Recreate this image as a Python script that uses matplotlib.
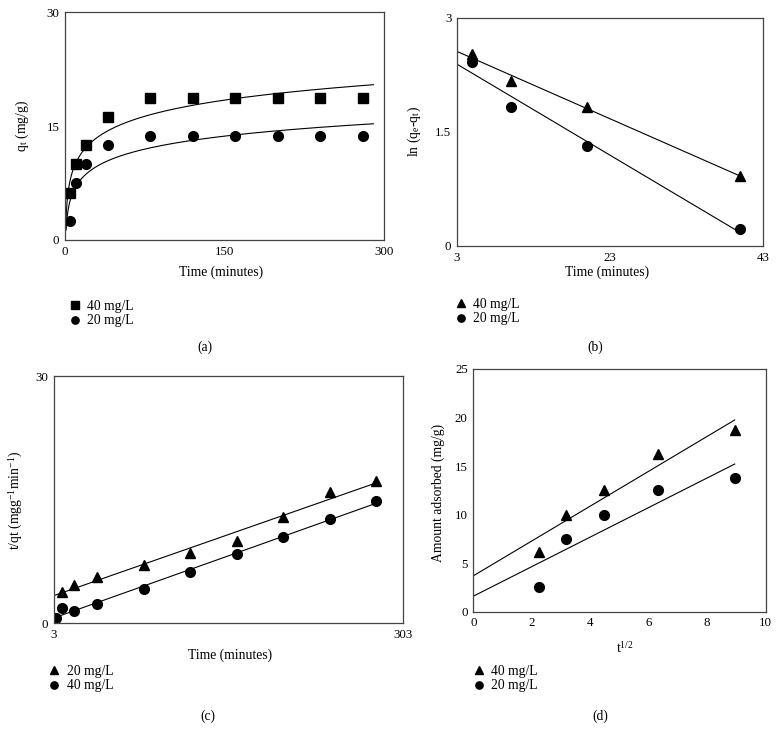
import numpy as np
import matplotlib
matplotlib.use('Agg')
import matplotlib.pyplot as plt

plt.rcParams['font.family'] = ['Liberation Serif', 'DejaVu Serif']
plt.rcParams['mathtext.fontset'] = 'stix'

# (a) q_t vs time
t_a = [5, 10, 20, 40, 80, 120, 160, 200, 240, 280]
q40_a = [6.2, 10.0, 12.5, 16.2, 18.7, 18.7, 18.7, 18.7, 18.7, 18.7]
q20_a = [2.5, 7.5, 10.0, 12.5, 13.75, 13.75, 13.75, 13.75, 13.75, 13.75]

# (b) ln(qe-qt) vs time
t_b = [5, 10, 20, 40]
ln40_b = [2.52, 2.17, 1.83, 0.92]
ln20_b = [2.42, 1.83, 1.32, 0.22]

# (c) t/qt vs time
t20_c = [10, 20, 40, 80, 120, 160, 200, 240, 280]
tq20_c = [3.73, 4.62, 5.62, 7.04, 8.46, 9.96, 12.91, 15.87, 17.28]
t40_c = [5, 10, 20, 40, 80, 120, 160, 200, 240, 280]
tq40_c = [0.57, 1.79, 1.46, 2.34, 4.09, 6.23, 8.34, 10.48, 12.67, 14.78]

# (d) amount adsorbed vs t^1/2
sqrt_t = [2.24, 3.16, 4.47, 6.32, 8.94]
amt40_d = [6.2, 10.0, 12.5, 16.2, 18.7]
amt20_d = [2.5, 7.5, 10.0, 12.5, 13.75]

W, H = 779, 742
fig = plt.figure(figsize=(W / 100, H / 100), dpi=100)

FS = 9.8

def axes_px(left, right, top, bottom):
    return fig.add_axes([left / W, 1 - bottom / H, (right - left) / W, (bottom - top) / H])

def style(ax):
    for s in ax.spines.values():
        s.set_color('#444444')
        s.set_linewidth(0.9)
    ax.tick_params(length=0, labelsize=9.3, pad=4)

def legend_px(ax, handles, labels, mx, my):
    em = FS * 100 / 72
    ax.legend(handles, labels, loc='upper left', frameon=False,
              bbox_to_anchor=((mx - em * 0.5) / W, 1 - (my - 8) / H),
              bbox_transform=fig.transFigure, fontsize=FS,
              handlelength=1.0, handletextpad=0.4, borderpad=0,
              borderaxespad=0, labelspacing=0.1, markerscale=0.75)

def caption(x, y, s):
    fig.text(x / W, 1 - y / H, s, ha='center', va='center', fontsize=FS)

lw = 0.8
ms = 7
kw = dict(color='black', linestyle='none')

# ---- (a)
ax = axes_px(65, 384, 12.3, 240)
style(ax)
b40, a40 = np.polyfit(np.log(t_a), q40_a, 1)
b20, a20 = np.polyfit(np.log(t_a), q20_a, 1)
tt = np.linspace(1, 290, 300)
ax.plot(tt, a40 + b40 * np.log(tt), color='black', lw=lw)
ax.plot(tt, a20 + b20 * np.log(tt), color='black', lw=lw)
h1, = ax.plot(t_a, q40_a, marker='s', ms=6.8, **kw)
h2, = ax.plot(t_a, q20_a, marker='o', ms=ms, **kw)
ax.set_xlim(0, 300)
ax.set_ylim(0, 30)
ax.set_xticks([0, 150, 300])
ax.set_yticks([0, 15, 30])
ax.set_xlabel('Time (minutes)', fontsize=FS, va='center')
ax.xaxis.set_label_coords(0.489, -0.14)
ax.set_ylabel('q$_{\\mathregular{t}}$ (mg/g)', fontsize=FS, va='center')
ax.yaxis.set_label_coords(-0.135, 0.5)
legend_px(ax, [h1, h2], ['40 mg/L', '20 mg/L'], 75, 308)
caption(205, 347, '(a)')

# ---- (b)
ax = axes_px(457, 763, 17.7, 246)
style(ax)
xx = np.array([3, 40])
p40 = np.polyfit(t_b, ln40_b, 1)
p20 = np.polyfit(t_b, ln20_b, 1)
ax.plot(xx, np.polyval(p40, xx), color='black', lw=lw)
ax.plot(xx, np.polyval(p20, xx), color='black', lw=lw)
h1, = ax.plot(t_b, ln40_b, marker='^', ms=7.8, **kw)
h2, = ax.plot(t_b, ln20_b, marker='o', ms=ms, **kw)
ax.set_xlim(3, 43)
ax.set_ylim(0, 3)
ax.set_xticks([3, 23, 43])
ax.set_yticks([0, 1.5, 3])
ax.set_yticklabels(['0', '1.5', '3'])
ax.set_xlabel('Time (minutes)', fontsize=FS, va='center')
ax.xaxis.set_label_coords(0.49, -0.115)
ax.set_ylabel('ln (q$_{\\mathregular{e}}$-q$_{\\mathregular{t}}$)', fontsize=FS, va='center')
ax.yaxis.set_label_coords(-0.141, 0.5)
legend_px(ax, [h1, h2], ['40 mg/L', '20 mg/L'], 461, 306)
caption(595, 347, '(b)')

# ---- (c)
ax = axes_px(54, 403, 376, 623)
style(ax)
xx = np.array([3, 280])
p20 = np.polyfit(t20_c, tq20_c, 1)
p40 = np.polyfit(t40_c, tq40_c, 1)
ax.plot(xx, np.polyval(p20, xx), color='black', lw=lw)
ax.plot(xx, np.polyval(p40, xx), color='black', lw=lw)
h1, = ax.plot(t20_c, tq20_c, marker='^', ms=7.8, **kw)
h2, = ax.plot(t40_c, tq40_c, marker='o', ms=ms, **kw)
ax.set_xlim(3, 303)
ax.set_ylim(0, 30)
ax.set_xticks([3, 303])
ax.set_yticks([0, 30])
ax.set_xlabel('Time (minutes)', fontsize=FS, va='center')
ax.xaxis.set_label_coords(0.504, -0.132)
ax.set_ylabel('t/qt (mgg$^{\\mathregular{-1}}$min$^{\\mathregular{-1}}$)', fontsize=FS, va='center')
ax.yaxis.set_label_coords(-0.109, 0.498)
legend_px(ax, [h1, h2], ['20 mg/L', '40 mg/L'], 54.3, 673)
caption(208, 716, '(c)')

# ---- (d)
ax = axes_px(473.3, 765.7, 369, 611.7)
style(ax)
xx = np.array([0, max(sqrt_t)])
p40 = np.polyfit(sqrt_t, amt40_d, 1)
p20 = np.polyfit(sqrt_t, amt20_d, 1)
ax.plot(xx, np.polyval(p40, xx), color='black', lw=lw)
ax.plot(xx, np.polyval(p20, xx), color='black', lw=lw)
h1, = ax.plot(sqrt_t, amt40_d, marker='^', ms=7.8, **kw)
h2, = ax.plot(sqrt_t, amt20_d, marker='o', ms=ms, **kw)
ax.set_xlim(0, 10)
ax.set_ylim(0, 25)
ax.set_xticks(range(0, 11, 2))
ax.set_yticks(range(0, 26, 5))
ax.set_xlabel('t$^{\\mathregular{1/2}}$', fontsize=FS, va='center')
ax.xaxis.set_label_coords(0.519, -0.15)
ax.set_ylabel('Amount adsorbed (mg/g)', fontsize=FS, va='center')
ax.yaxis.set_label_coords(-0.12, 0.489)
legend_px(ax, [h1, h2], ['40 mg/L', '20 mg/L'], 479, 673)
caption(600, 716, '(d)')

fig.savefig('out.png', dpi=100)
